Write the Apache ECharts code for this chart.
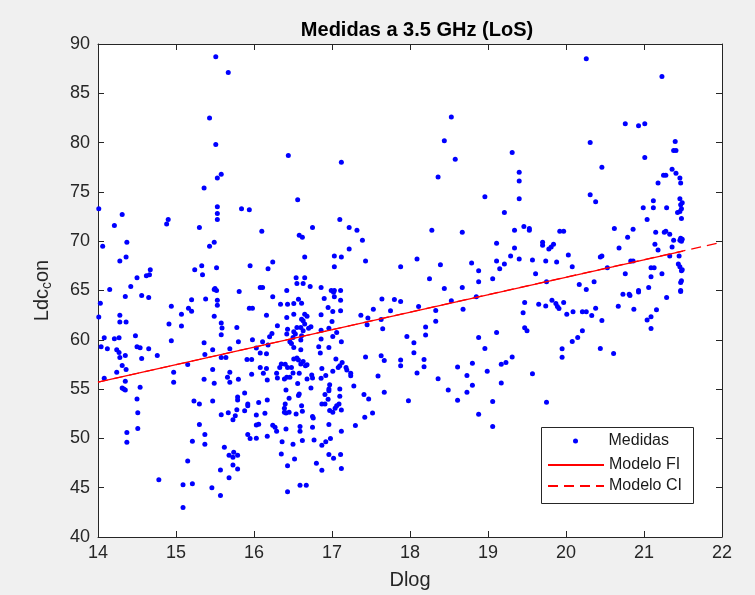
<!DOCTYPE html>
<html>
<head>
<meta charset="utf-8">
<script src="https://cdn.jsdelivr.net/npm/echarts@6/dist/echarts.min.js"></script>
<style>html,body{margin:0;padding:0;background:#f0f0f0;}#c{width:755px;height:595px;}</style>
</head>
<body>
<div id="c"></div>
<script>
const xTicks = [14, 15, 16, 17, 18, 19, 20, 21, 22];
const yTicks = [40, 45, 50, 55, 60, 65, 70, 75, 80, 85, 90];
const legendNames = ['Medidas', 'Modelo FI', 'Modelo CI'];

// Medidas: [Dlog, Ldc_con]
const medidas = [
[15.51,88.7],[15.67,87.1],[15.43,82.5],[15.51,79.8],[15.58,76.8],[15.53,76.4],[15.36,75.4],[14.01,73.3],[14.31,72.7],[14.21,71.6],
[14.88,71.75],[14.90,72.2],[15.53,73.5],[15.53,72.8],[15.53,72.2],[15.30,71.4],[15.84,73.3],[15.94,73.2],[14.37,69.9],[14.06,69.5],
[15.49,69.9],[15.43,69.5],[14.36,68.4],[14.28,68.0],[14.67,67.1],[14.62,66.5],[14.66,66.6],[14.50,66.3],[14.42,65.4],[14.15,65.1],
[15.24,67.1],[15.33,67.5],[15.34,66.6],[15.52,67.3],[15.95,67.5],[15.50,65.2],[15.52,65.0],[15.49,65.1],[15.81,64.9],
[16.44,78.7],[17.12,78.0],[16.56,74.2],[17.10,72.2],[16.10,71.0],[16.75,71.4],[17.22,71.4],[17.32,71.1],[16.58,70.6],[16.62,70.4],
[17.39,70.1],[17.22,69.2],[16.65,68.4],[17.03,68.5],[17.12,68.4],[17.43,68.0],[16.24,67.9],[16.18,67.2],[17.03,67.4],[17.88,67.4],
[16.54,66.3],[16.65,66.3],[16.55,65.7],[16.63,65.7],[16.72,65.4],[16.86,65.3],[16.42,65.0],[16.08,65.3],[16.11,65.3],[16.99,65.0],
[17.03,65.0],[17.11,65.0],
[18.53,82.6],[18.44,80.2],[18.58,78.3],[19.31,79.0],[18.36,76.5],[19.40,77.0],[19.40,76.1],[19.40,74.3],[18.96,74.5],[19.21,72.9],
[18.28,71.1],[18.67,70.9],[19.34,71.1],[19.46,71.5],[19.53,71.3],[19.53,71.1],[19.92,71.0],[19.97,71.0],[19.11,69.8],[19.34,69.3],
[18.09,68.2],[18.39,67.6],[18.79,67.8],[19.11,68.0],[19.29,68.5],[19.21,67.7],[19.40,68.2],[19.15,67.2],[18.88,67.0],[19.57,68.1],
[19.61,66.7],[19.70,69.9],[19.70,69.6],[19.78,69.2],[19.81,69.4],[19.84,69.7],[19.74,68.0],[19.88,67.9],[18.25,66.2],[18.88,65.9],
[19.06,66.2],[19.75,65.9],[18.44,65.2],[18.67,65.3],
[20.26,88.5],[21.23,86.7],[20.76,81.9],[20.93,81.7],[21.01,81.9],[20.31,80.0],[21.40,80.1],[21.38,79.2],[21.41,79.2],[21.01,78.5],
[20.46,77.5],[21.36,77.3],[21.41,76.9],[21.28,76.7],[21.25,76.7],[21.46,76.4],[21.47,75.9],[21.18,75.9],[20.31,74.7],[20.38,74.0],
[21.12,74.1],[20.99,73.4],[21.12,73.4],[21.29,73.4],[21.46,74.3],[21.49,73.9],[21.47,73.7],[21.48,73.3],[21.46,73.0],[21.43,72.9],
[21.48,72.3],[21.04,72.2],[20.62,71.3],[20.86,71.2],[20.79,70.4],[21.15,70.9],[21.26,70.9],[21.28,71.0],[21.33,70.7],[21.38,70.1],
[21.47,70.3],[21.46,70.1],[21.49,70.2],[21.48,70.0],[21.14,69.7],[21.18,69.1],[21.36,69.4],[20.03,68.6],[20.44,68.4],[20.46,68.5],
[20.68,69.3],[21.33,68.5],[21.45,68.5],[20.08,67.4],[20.53,67.3],[20.83,68.0],[20.86,68.0],[20.76,66.7],[21.23,66.7],[21.09,67.3],
[21.13,67.3],[21.09,66.4],[21.44,67.7],[21.46,67.4],[21.48,67.0],[21.49,67.1],[21.48,66.0],[21.47,65.8],[20.17,65.6],[20.26,65.1],
[20.36,65.9],[21.06,65.3],[20.93,65.0],[21.47,65.0],
[14.03,63.7],[14.35,64.4],[14.56,64.5],[14.65,64.3],[14.01,62.3],[14.28,62.5],[14.28,61.8],[14.36,61.8],[14.94,63.4],[15.07,62.6],
[15.20,64.05],[15.16,63.2],[15.20,62.9],[15.38,64.15],[15.53,64.0],[15.53,63.5],[15.49,62.4],[15.94,63.2],[15.98,63.2],[14.91,61.6],
[15.07,61.4],[15.58,61.7],[15.59,61.2],[15.58,60.5],[15.78,61.25],[14.08,60.2],[14.21,60.1],[14.27,60.2],[14.04,59.3],[14.12,59.1],
[14.24,59.0],[14.27,58.7],[14.28,58.2],[14.35,58.4],[14.48,60.4],[14.50,59.3],[14.54,59.2],[14.56,58.1],[14.65,59.1],[14.76,58.4],
[14.94,59.9],[15.15,57.5],[14.97,56.7],[14.97,55.7],[14.31,57.4],[14.36,57.0],[14.24,56.7],[14.08,56.1],[14.35,55.8],[14.31,55.1],
[14.33,55.0],[14.35,54.9],[14.54,55.2],[14.50,54.0],[14.51,52.6],[14.51,51.0],[14.37,50.6],[14.37,49.6],[14.78,45.8],[15.09,45.3],
[15.09,43.0],[15.21,45.4],[15.15,47.7],[15.21,49.7],[15.30,51.4],[15.37,50.4],[15.37,49.4],[15.23,53.8],[15.30,53.5],[15.36,59.7],
[15.37,58.5],[15.36,56.0],[15.47,59.0],[15.47,57.0],[15.49,55.6],[15.47,53.8],[15.58,58.2],[15.64,58.2],[15.58,52.4],[15.62,49.1],
[15.57,46.8],[15.46,45.0],[15.57,44.2],[15.68,46.0],[15.68,48.3],[15.73,48.1],[15.74,48.6],[15.79,48.3],[15.73,47.3],[15.79,46.9],
[15.69,59.1],[15.80,59.8],[15.66,56.2],[15.69,56.7],[15.69,55.7],[15.80,56.0],[15.79,54.2],[15.79,53.9],[15.88,54.6],[15.92,53.5],
[15.92,53.3],[15.88,52.8],[15.67,52.6],[15.76,52.3],[15.73,51.9],[15.78,52.9],[15.91,58.0],[15.97,58.0],[15.97,56.5],[15.98,60.0],
[15.92,50.4],[15.95,50.0],
[17.02,64.83],[17.03,64.36],[17.11,64.02],[16.24,64.36],[16.34,63.61],[16.43,63.61],[16.51,63.68],[16.57,64.12],[16.61,63.71],[16.90,64.19],
[16.95,63.28],[17.01,62.87],[17.11,62.94],[16.16,62.50],[16.42,62.26],[16.51,62.60],[16.65,62.60],[16.68,62.40],[16.61,62.09],[16.63,61.93],
[16.65,61.59],[16.60,61.25],[16.86,62.53],[17.00,61.86],[16.73,61.32],[16.70,61.18],[16.30,61.42],[16.43,61.08],[16.42,60.58],[16.51,60.81],
[16.55,61.25],[16.53,60.58],[16.63,60.91],[16.20,60.31],[16.23,60.64],[16.61,60.41],[16.60,59.97],[16.50,60.24],[16.46,59.80],[16.48,59.63],
[16.03,59.16],[16.11,59.80],[16.18,59.46],[16.96,61.18],[16.86,60.98],[16.86,60.07],[17.01,60.34],[17.06,60.75],[17.12,59.80],[16.83,59.29],
[16.96,59.23],[16.51,59.23],[16.60,58.99],[16.85,58.65],[16.08,58.65],[16.16,58.59],[16.55,58.15],[16.57,57.95],[16.63,57.81],[16.60,57.54],
[16.66,57.37],[16.68,57.47],[16.51,58.05],[17.05,58.05],[17.13,57.71],[17.08,57.20],[17.10,57.37],[17.18,57.20],[17.19,56.93],[17.24,56.60],
[17.24,56.36],[16.35,57.54],[16.40,57.51],[16.33,57.20],[16.43,57.20],[16.08,57.20],[16.16,57.10],[16.12,56.60],[16.17,55.92],[16.29,56.60],
[16.30,56.12],[16.39,56.02],[16.42,56.19],[16.46,56.19],[16.48,57.20],[16.50,56.63],[16.58,56.60],[16.74,56.43],[16.75,56.12],[16.87,57.10],
[16.86,56.09],[16.92,56.39],[17.01,56.80],[16.68,56.02],[16.56,55.58],[16.73,55.11],[16.97,55.45],[16.96,55.01],[16.91,54.44],[16.96,54.84],
[17.10,55.01],[17.10,54.27],[17.28,55.31],[16.41,54.91],[16.45,54.07],[16.57,54.34],[16.58,54.50],[16.06,53.63],[16.17,53.90],[16.40,53.49],
[16.39,53.05],[16.39,52.65],[16.41,52.58],[16.45,52.65],[16.61,53.32],[16.62,52.75],[16.54,52.48],[16.87,53.49],[16.95,53.96],[16.91,53.49],
[17.06,53.32],[17.09,53.49],[17.04,53.05],[16.97,52.82],[17.01,52.65],[17.12,52.88],[16.03,52.38],[16.14,52.55],[16.03,51.37],[16.06,51.43],
[16.24,51.33],[16.27,51.13],[16.29,50.73],[16.41,50.96],[16.59,51.20],[16.59,50.73],[16.75,52.21],[16.76,52.07],[16.75,51.13],[16.96,51.40],
[17.12,50.73],[17.30,51.30],[17.42,52.14],[17.52,52.58],[17.41,54.44],[17.47,54.00],[16.03,50.02],[16.17,50.22],[16.36,49.65],[16.50,49.41],
[16.62,49.78],[16.77,49.85],[16.92,49.65],[16.87,49.31],[16.98,49.98],[16.35,48.43],[16.52,47.92],[16.43,47.22],[16.80,47.49],[16.87,46.78],
[16.96,48.36],[17.02,47.99],[17.11,48.36],[17.12,46.95],[16.59,45.26],[16.67,45.26],[16.43,44.58],[17.37,62.50],[17.46,62.20],[17.45,61.52],
[17.53,63.11],[17.64,64.15],[17.80,64.09],[17.88,63.88],[17.75,62.94],[17.63,62.06],[17.65,61.12],[17.96,60.34],[17.43,58.25],[17.63,58.38],
[17.67,57.91],[17.88,57.95],[17.88,57.37],[17.59,56.33],[17.67,54.67],[17.98,53.83],
[18.11,63.38],[18.53,63.95],[18.33,62.97],[18.33,61.89],[18.68,63.11],[18.85,64.36],[18.05,59.70],[18.20,61.29],[18.20,60.48],[18.05,58.69],
[18.18,58.01],[18.18,57.27],[18.09,56.63],[18.36,56.06],[18.49,54.91],[18.61,53.86],[18.61,57.24],[18.73,56.39],[18.80,57.61],[18.80,55.38],
[18.73,54.67],[18.88,60.24],[18.96,59.13],[18.99,56.80],[19.11,60.75],[19.17,57.51],[19.23,57.71],[19.31,58.25],[19.17,55.62],[19.06,53.73],
[18.88,52.45],[19.06,51.20],[19.47,63.78],[19.45,62.74],[19.47,61.22],[19.50,60.91],[19.65,63.61],[19.74,63.44],[19.82,64.02],[19.87,63.68],
[19.89,63.38],[19.91,63.17],[19.97,63.78],[19.57,56.56],[19.75,53.66],[19.95,59.09],[19.95,58.22],
[20.01,62.60],[20.09,62.84],[20.21,62.84],[20.26,62.84],[20.33,62.47],[20.38,63.21],[20.46,61.96],[20.08,59.83],[20.15,60.24],[20.21,60.91],
[20.44,59.13],[20.61,58.62],[20.67,63.41],[20.73,64.62],[20.81,64.62],[20.82,64.49],[20.93,64.86],[20.87,63.11],[21.04,62.00],[21.09,62.33],
[21.09,61.15],[21.16,63.04],[21.29,64.29],[21.47,64.90]
];

// Fitted models
const modeloFIDlog = [14, 21.5];
const modeloFILdc = [55.7, 69.0];
const modeloCIDlog = [14, 22];
const modeloCILdc = [55.7, 69.9];

const FONT = '"Liberation Sans", Arial, Helvetica, sans-serif';
const AX = '#262626';

const chart = echarts.init(document.getElementById('c'));
const baseX = {
  type: 'value', min: xTicks[0], max: xTicks[xTicks.length - 1], interval: 1,
  axisLine: { show: true, lineStyle: { color: AX, width: 1 } },
  axisTick: { show: true, inside: true, length: 6, lineStyle: { color: AX } },
  splitLine: { show: false }
};
const baseY = {
  type: 'value', min: yTicks[0], max: yTicks[yTicks.length - 1], interval: 5,
  axisLine: { show: true, lineStyle: { color: AX, width: 1 } },
  axisTick: { show: true, inside: true, length: 6, lineStyle: { color: AX } },
  splitLine: { show: false }
};

chart.setOption({
  backgroundColor: '#f0f0f0',
  animation: false,
  textStyle: { fontFamily: FONT },
  title: {
    text: 'Medidas a 3.5 GHz (LoS)',
    left: 412, top: 15, textAlign: 'center',
    textStyle: { fontFamily: FONT, fontSize: 20, fontWeight: 'bold', color: '#000' }
  },
  grid: { left: 98, right: 33, top: 44, bottom: 57, show: true, backgroundColor: '#ffffff', borderWidth: 0 },
  xAxis: [
    Object.assign({}, baseX, {
      position: 'bottom',
      axisLabel: { fontSize: 18, color: AX, margin: 7, fontFamily: FONT },
      name: 'Dlog', nameLocation: 'middle', nameGap: 33,
      nameTextStyle: { fontSize: 20, color: AX, fontFamily: FONT }
    }),
    Object.assign({}, baseX, { position: 'top', axisLabel: { show: false } })
  ],
  yAxis: [
    Object.assign({}, baseY, {
      position: 'left',
      axisLabel: { fontSize: 18, color: AX, margin: 8, fontFamily: FONT },
      name: '{a|Ldc}{b|c}{a|on}', nameLocation: 'middle', nameGap: 44, nameRotate: 90,
      nameTextStyle: {
        color: AX, fontFamily: FONT,
        rich: {
          a: { fontSize: 20, color: AX, fontFamily: FONT, lineHeight: 22, verticalAlign: 'top' },
          b: { fontSize: 14, color: AX, fontFamily: FONT, lineHeight: 22, verticalAlign: 'bottom', padding: [8, 0, 0, 0] }
        }
      }
    }),
    Object.assign({}, baseY, { position: 'right', axisLabel: { show: false } })
  ],
  legend: [
    {
      data: [legendNames[0]], orient: 'vertical', left: 573, top: 433, padding: 0,
      itemWidth: 56, itemHeight: 5, itemGap: 5,
      itemStyle: { opacity: 1 },
      textStyle: { fontSize: 16, color: '#1a1a1a', fontFamily: FONT, lineHeight: 16 }
    },
    {
      data: [legendNames[1], legendNames[2]], orient: 'vertical', left: 547, top: 457, padding: 0,
      itemWidth: 56, itemHeight: 14, itemGap: 5,
      itemStyle: { opacity: 0, borderWidth: 0 },
      textStyle: { fontSize: 16, color: '#1a1a1a', fontFamily: FONT, lineHeight: 16 }
    }
  ],
  graphic: [{
    type: 'rect', left: 541, top: 427, z: 3,
    shape: { width: 152, height: 76 },
    style: { fill: '#ffffff', stroke: AX, lineWidth: 1 }
  }],
  series: [
    {
      name: legendNames[0], type: 'scatter', xAxisIndex: 0, yAxisIndex: 0,
      symbol: 'circle', symbolSize: 5,
      itemStyle: { color: '#0000ff', opacity: 1 },
      data: medidas, z: 2
    },
    {
      name: legendNames[1], type: 'line', xAxisIndex: 0, yAxisIndex: 0,
      symbol: 'none', showSymbol: false, lineStyle: { color: '#ff0000', width: 1.2, type: 'solid' },
      itemStyle: { color: '#ff0000' },
      data: modeloFIDlog.map((x, i) => [x, modeloFILdc[i]]), z: 3
    },
    {
      name: legendNames[2], type: 'line', xAxisIndex: 0, yAxisIndex: 0,
      symbol: 'none', showSymbol: false, lineStyle: { color: '#ff0000', width: 1.2, type: [10, 6] },
      itemStyle: { color: '#ff0000' },
      data: modeloCIDlog.map((x, i) => [x, modeloCILdc[i]]), z: 3
    }
  ]
});
</script>
</body>
</html>
